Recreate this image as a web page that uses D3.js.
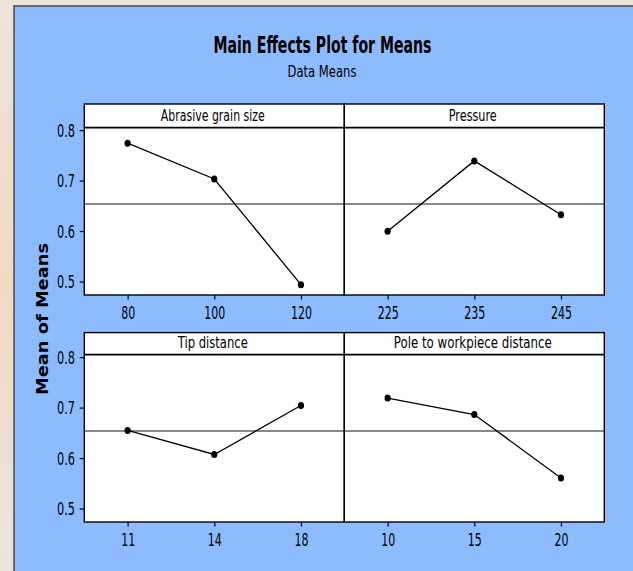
<!DOCTYPE html>
<html>
<head>
<meta charset="utf-8">
<script src="https://cdn.jsdelivr.net/npm/d3@7"></script>
<style>
  html, body { margin: 0; padding: 0; background: #eee2d4; }
  svg { display: block; }
</style>
</head>
<body>
<script>
// ---- data ----
const factors = ["Abrasive grain size", "Pressure", "Tip distance", "Pole to workpiece distance"];
const levels = [["80", "100", "120"], ["225", "235", "245"], ["11", "14", "18"], ["10", "15", "20"]];
const means = [
  [0.7742, 0.7032, 0.4938],
  [0.5998, 0.7390, 0.6324],
  [0.6547, 0.6071, 0.7042],
  [0.7188, 0.6863, 0.5604]
];
const grandMean = 0.6535;
const yTicks = [0.5, 0.6, 0.7, 0.8];
const yDomain = [0.4733, 0.805];

// ---- layout ----
const W = 633, H = 571;
const NARROW = "'Liberation Sans Narrow', 'Arial Narrow', 'DejaVu Sans Condensed', sans-serif";
const colX = [84.3, 344.3], colW = 260;
const stripTop = [104, 332.6], stripBot = [127.6, 354.6], plotBot = [295, 522];

const svg = d3.select("body").append("svg").attr("width", W).attr("height", H);

// background outside frame
const grad = svg.append("defs").append("linearGradient").attr("id", "bg").attr("x1", 0).attr("y1", 0).attr("x2", 0).attr("y2", 1);
grad.append("stop").attr("offset", "0%").attr("stop-color", "#ede3da");
grad.append("stop").attr("offset", "50%").attr("stop-color", "#f0dac4");
grad.append("stop").attr("offset", "100%").attr("stop-color", "#ebe4dd");
svg.append("rect").attr("width", W).attr("height", H).attr("fill", "url(#bg)");

// blue frame
svg.append("rect").attr("x", 14).attr("y", 6).attr("width", W + 10).attr("height", H + 10)
  .attr("fill", "#8dbcfe").attr("stroke", "#4a4a4a").attr("stroke-width", 1.5);

function fit(sel, w) {
  sel.attr("textLength", w).attr("lengthAdjust", "spacingAndGlyphs");
  return sel;
}
const numW = s => s.replace(/[^0-9]/g, "").length * 7 + (s.includes(".") ? 4 : 0);

// titles
fit(svg.append("text").attr("x", 322.5).attr("y", 53.3).attr("text-anchor", "middle")
  .attr("font-family", NARROW).attr("font-weight", "bold").attr("font-size", 22.5)
  .attr("fill", "#000").text("Main Effects Plot for Means"), 218);
fit(svg.append("text").attr("x", 322).attr("y", 76.7).attr("text-anchor", "middle")
  .attr("font-family", NARROW).attr("font-size", 16.5)
  .attr("fill", "#000").text("Data Means"), 69);

// y axis label
fit(svg.append("text").attr("transform", "translate(47.5,319) rotate(-90)")
  .attr("text-anchor", "middle").attr("font-family", "'DejaVu Sans', Verdana, sans-serif")
  .attr("font-weight", "bold").attr("font-size", 15).attr("fill", "#000")
  .text("Mean of Means"), 152);

const stripLabelW = [104, 48, 70, 158];

factors.forEach((name, i) => {
  const col = i % 2, row = Math.floor(i / 2);
  const x0 = colX[col], x1 = x0 + colW;
  const y = d3.scaleLinear().domain(yDomain).range([plotBot[row], stripBot[row]]);
  const x = d3.scalePoint().domain(levels[i]).range([x0, x1]).padding(0.5);
  const g = svg.append("g");

  // strip
  g.append("rect").attr("x", x0).attr("y", stripTop[row]).attr("width", colW)
    .attr("height", stripBot[row] - stripTop[row]).attr("fill", "#fff");
  fit(g.append("text").attr("x", (x0 + x1) / 2 - 1.5).attr("y", stripBot[row] - 7)
    .attr("text-anchor", "middle").attr("font-family", NARROW).attr("font-size", 16.5)
    .attr("fill", "#000").text(name), stripLabelW[i]);

  // plot area
  g.append("rect").attr("x", x0).attr("y", stripBot[row]).attr("width", colW)
    .attr("height", plotBot[row] - stripBot[row]).attr("fill", "#fff");

  // reference line (grand mean)
  g.append("line").attr("x1", x0).attr("x2", x1).attr("y1", y(grandMean)).attr("y2", y(grandMean))
    .attr("stroke", "#606060").attr("stroke-width", 1.6);

  // x axis
  const xa = g.append("g").attr("transform", `translate(0,${plotBot[row]})`)
    .call(d3.axisBottom(x).tickSize(4.5).tickSizeOuter(0));
  xa.select(".domain").remove();
  xa.selectAll("line").attr("stroke", "#000").attr("stroke-width", 1.2);
  xa.selectAll("text").attr("font-family", NARROW).attr("font-size", 17.5).attr("fill", "#000")
    .attr("y", 0).attr("dy", 0).attr("transform", "translate(0,23.5)")
    .each(function(d) { fit(d3.select(this), numW(d)); });

  // y axis on left column
  if (col === 0) {
    const ya = g.append("g").attr("transform", `translate(${x0},0)`)
      .call(d3.axisLeft(y).tickValues(yTicks).tickFormat(d3.format(".1f")).tickSize(4.6).tickSizeOuter(0));
    ya.select(".domain").remove();
    ya.selectAll("line").attr("stroke", "#000").attr("stroke-width", 1.2);
    ya.selectAll("text").attr("font-family", NARROW).attr("font-size", 17.5).attr("fill", "#000")
      .attr("x", -9.3).attr("dy", "0.36em")
      .each(function(d) { fit(d3.select(this), numW(d3.format(".1f")(d))); });
  }

  // series line + points
  const pts = levels[i].map((l, k) => [l, means[i][k]]);
  g.append("path").datum(pts)
    .attr("d", d3.line().x(d => x(d[0])).y(d => y(d[1])))
    .attr("fill", "none").attr("stroke", "#000").attr("stroke-width", 1.3);
  g.selectAll("ellipse.pt").data(pts).join("ellipse").attr("class", "pt")
    .attr("cx", d => x(d[0])).attr("cy", d => y(d[1])).attr("rx", 3.1).attr("ry", 3.5)
    .attr("fill", "#000");

  // borders
  g.append("line").attr("x1", x0).attr("x2", x1).attr("y1", stripBot[row]).attr("y2", stripBot[row])
    .attr("stroke", "#000").attr("stroke-width", 1.8);
  g.append("rect").attr("x", x0).attr("y", stripTop[row]).attr("width", colW)
    .attr("height", plotBot[row] - stripTop[row]).attr("fill", "none")
    .attr("stroke", "#000").attr("stroke-width", 1.4);
});
</script>
</body>
</html>
